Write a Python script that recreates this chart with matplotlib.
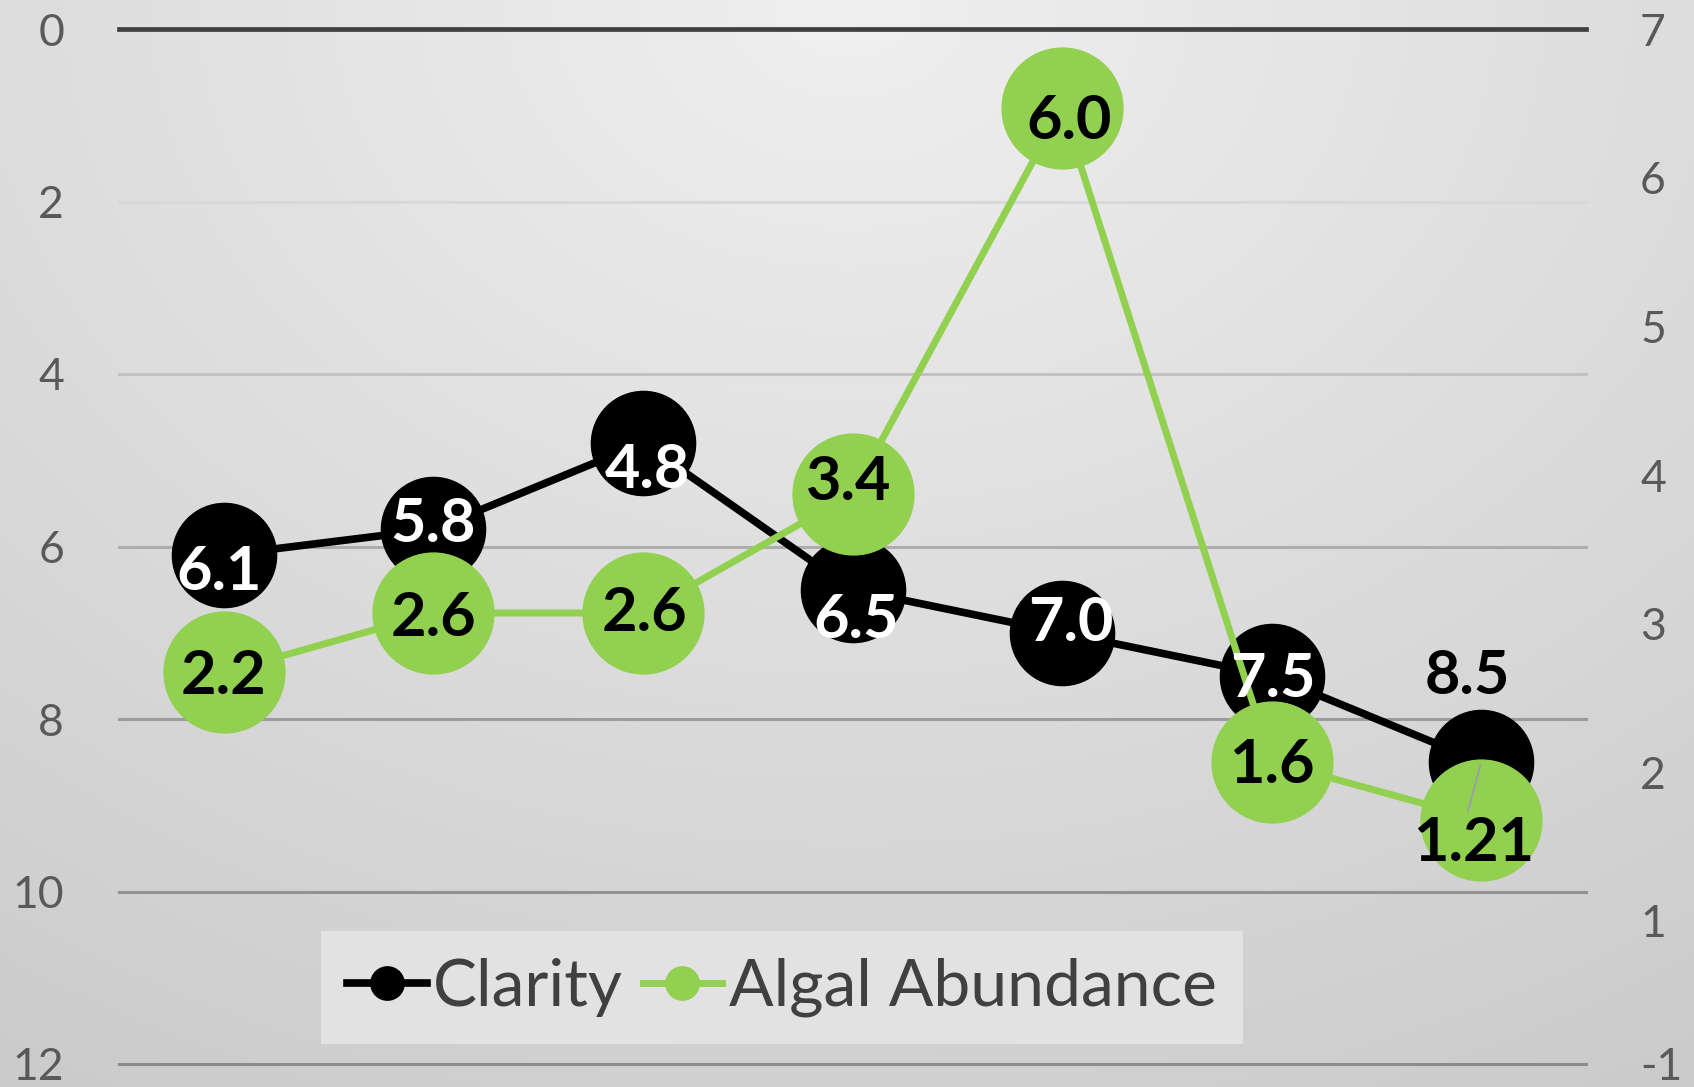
import numpy as np
import matplotlib
matplotlib.use("Agg")
import matplotlib.pyplot as plt

# ---------------- data ----------------
categories = ["1", "2", "3", "4", "5", "6", "7"]
clarity = [6.1, 5.8, 4.8, 6.5, 7.0, 7.5, 8.5]
algal = [2.2, 2.6, 2.6, 3.4, 6.0, 1.6, 1.21]
clarity_labels = ["6.1", "5.8", "4.8", "6.5", "7.0", "7.5", "8.5"]
algal_labels = ["2.2", "2.6", "2.6", "3.4", "6.0", "1.6", "1.21"]
left_ticks = [0, 2, 4, 6, 8, 10, 12]
right_tick_labels = ["7", "6", "5", "4", "3", "2", "1", "-1"]

# ---------------- style ----------------
W, H, DPI = 1694, 1087, 100
PX = 72.0 / DPI  # px -> pt
BLACK = "#000000"
GREEN = "#92d050"
FONT = "Lato"
# label offsets in pixels (dx right, dy down) relative to the marker centre
clarity_off = [(-5, 13), (0, -9), (4, 23), (4, 27), (9, -13), (1, 0), (-14, -90)]
clarity_txtcol = ["white"] * 6 + ["black"]
algal_off = [(0, 0), (0, 2), (2, -3), (-4, -16), (7, 10), (0, 0), (-8, 20)]
grid_cols = ["#d8d8d8", "#c2c2c2", "#adadad", "#9c9c9c", "#929292", "#8c8c8c"]

fig = plt.figure(figsize=(W / DPI, H / DPI), dpi=DPI)

# gradient background
bg = fig.add_axes([0, 0, 1, 1], zorder=-10)
yy, xx = np.mgrid[0:1:300j, 0:1:400j]
r = np.sqrt(((xx - 0.5) / 0.5 * 0.075) ** 2 + (yy * 0.124) ** 2)
v = 0.94 - r
img = np.dstack([v, v, v])
bg.imshow(img, extent=[0, 1, 0, 1], origin="upper", aspect="auto", interpolation="bilinear")
bg.set_xlim(0, 1)
bg.set_ylim(0, 1)
bg.axis("off")

L, R, T, B = 119, 1586, 29, 1064
ax = fig.add_axes([L / W, 1 - B / H, (R - L) / W, (B - T) / H])
ax.patch.set_alpha(0)
x = np.arange(len(categories))
ax.set_xlim(-0.5, len(categories) - 0.5)
ax.set_ylim(12, 0)
for s in ax.spines.values():
    s.set_visible(False)
ax.set_xticks([])
ax.set_yticks(left_ticks)
ax.set_yticklabels([str(t) for t in left_ticks])
ax.tick_params(axis="y", length=0, pad=55 * PX, labelsize=32, labelcolor="#595959")
for lab in ax.get_yticklabels():
    lab.set_fontfamily(FONT)

# gridlines
for t, c in zip(left_ticks[1:], grid_cols):
    ax.axhline(t, color=c, lw=2.2, zorder=0.5, clip_on=False)
ax.axhline(left_ticks[0], color="#404040", lw=3.4, zorder=0.6, clip_on=False)

ax.plot(x, clarity, color=BLACK, lw=5.5, marker="o", ms=75, mec=BLACK, mfc=BLACK,
        zorder=2, label="Clarity")

ax2 = ax.twinx()
ax2.patch.set_alpha(0)
ylo, yhi = -0.435, 6.53
ax2.set_ylim(ylo, yhi)
for s in ax2.spines.values():
    s.set_visible(False)
rpos = list(np.arange(yhi - 0.002, yhi - 6.5, -1.0)) + [ylo + 0.002]
ax2.set_yticks(rpos)
ax2.set_yticklabels(right_tick_labels)
ax2.tick_params(axis="y", length=0, pad=54 * PX, labelsize=32, labelcolor="#595959")
for lab in ax2.get_yticklabels():
    lab.set_fontfamily(FONT)

ax2.plot(x, algal, color=GREEN, lw=5.0, marker="o", ms=87, mec=GREEN, mfc=GREEN,
         zorder=2, label="Algal Abundance")

CAP = 21.5  # half of digit height in px
for i, (xv, yv) in enumerate(zip(x, clarity)):
    dx, dy = clarity_off[i]
    ax2.annotate(clarity_labels[i], xy=(xv, yv), xycoords=ax.transData,
                 xytext=(dx * PX, -(dy + CAP) * PX), textcoords="offset points",
                 ha="center", va="baseline", fontsize=44, fontweight="bold",
                 family=FONT, color=clarity_txtcol[i], zorder=5)
for i, (xv, yv) in enumerate(zip(x, algal)):
    dx, dy = algal_off[i]
    ax2.annotate(algal_labels[i], xy=(xv, yv), xycoords=ax2.transData,
                 xytext=(dx * PX, -(dy + CAP) * PX), textcoords="offset points",
                 ha="center", va="baseline", fontsize=44, fontweight="bold",
                 family=FONT, color="black", zorder=5)

# leader line for last clarity label
ax2.annotate("", xy=(x[-1], clarity[-1]), xycoords=ax.transData,
             xytext=(-14 * PX, -52 * PX), textcoords="offset points",
             arrowprops=dict(arrowstyle="-", color="#a0a0a0", lw=1.5), zorder=4)

# legend
h1, l1 = ax.get_legend_handles_labels()
h2, l2 = ax2.get_legend_handles_labels()
leg = fig.legend(h1 + h2, l1 + l2, loc="center", ncol=2,
                 bbox_to_anchor=(782 / W, 1 - 987.5 / H), bbox_transform=fig.transFigure,
                 frameon=True, fancybox=False, prop={"family": FONT, "size": 47.5},
                 handlelength=1.2, handletextpad=0.1, columnspacing=0.3,
                 borderpad=0.4, labelcolor="#404040")
leg.get_frame().set_facecolor("#e2e2e2")
leg.get_frame().set_edgecolor("none")
leg.get_frame().set_alpha(1)
for hl in leg.legend_handles:
    hl.set_markersize(24)

fig.savefig("out.png", dpi=DPI)
